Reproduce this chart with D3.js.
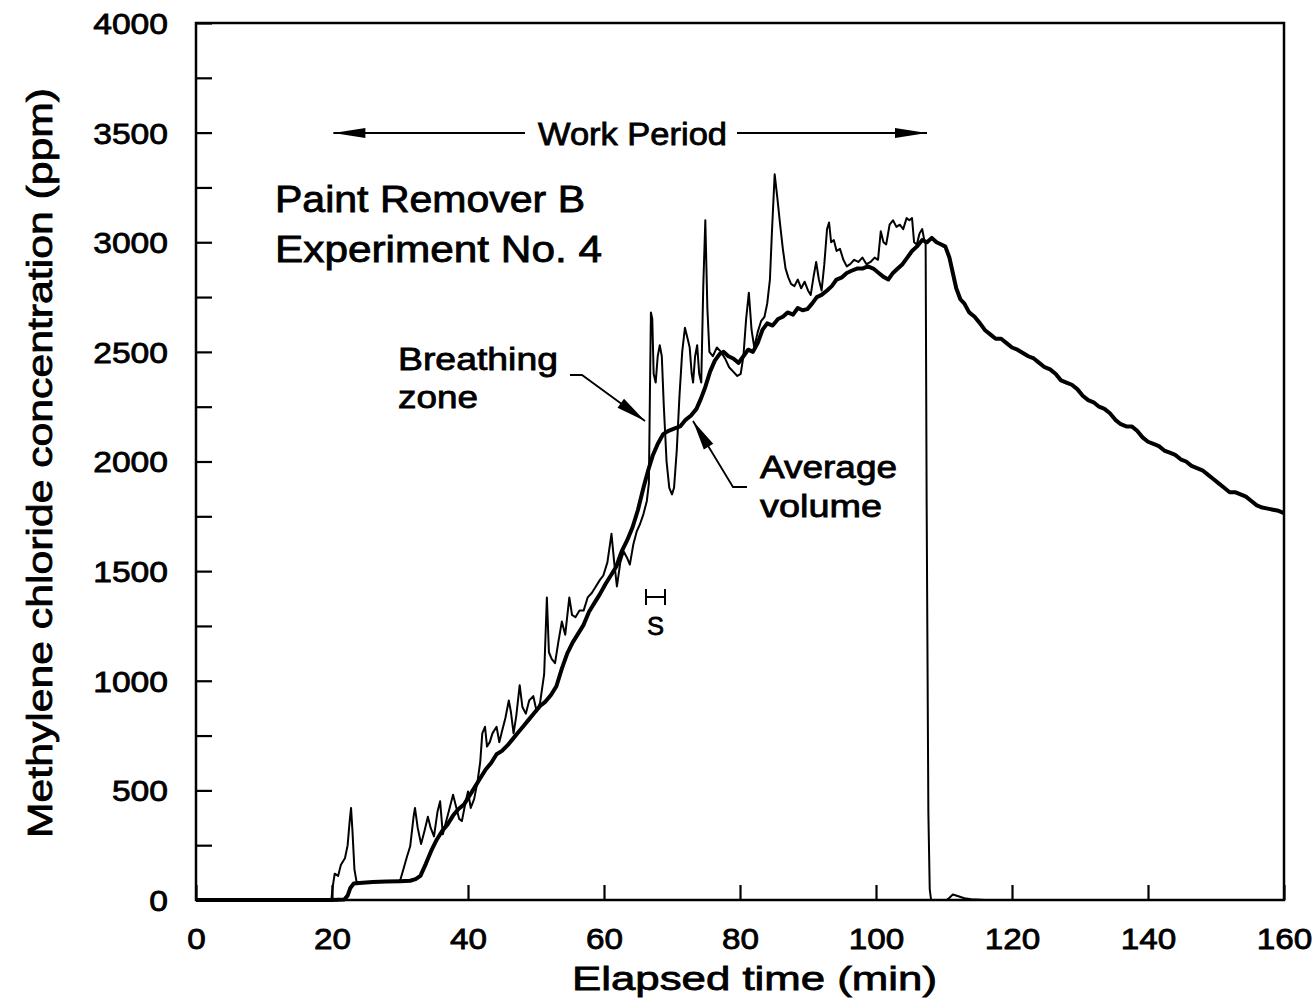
<!DOCTYPE html>
<html>
<head>
<meta charset="utf-8">
<script src="https://cdn.jsdelivr.net/npm/d3@7"></script>
<style>
  body { margin: 0; background: #fff; }
  svg text { font-family: "Liberation Sans", Arial, sans-serif; font-weight: normal; fill: #000; stroke: #000; stroke-width: 0.8px; }
</style>
</head>
<body>
<div id="chart"></div>
<script>
// Data (time in min, concentration in ppm)
const avgTime = [0, 20, 21.8, 22.3, 22.7, 23.2, 24, 26, 28, 30, 31.5, 32.3, 33, 33.8, 34.6, 35.4, 36.2, 37, 37.8, 38.6,
  39.4, 40.2, 41, 41.8, 42.6, 43.4, 44.2, 45, 45.8, 46.6, 47.4, 48.2, 49, 49.8, 50.6, 51.4, 52.2, 53, 53.8, 54.6,
  55.4, 56.2, 57, 57.8, 58.6, 59.4, 60.2, 61, 61.8, 62.6, 63.4, 64.2, 65, 65.8, 66.5, 67.2, 67.9, 68.7, 69.5, 70.3,
  71.2, 72, 72.8, 73.6, 74.3, 74.9, 75.6, 76.3, 77, 77.6, 78.3, 79, 79.8, 80.5, 81.2, 81.9, 82.6, 83.3, 84, 84.8,
  85.6, 86.3, 87, 87.8, 88.5, 89.2, 89.9, 90.6, 91.3, 92, 92.8, 93.5, 94.2, 95, 95.7, 96.4, 97.2, 98, 98.8, 99.6,
  100.4, 101.2, 101.8, 102.5, 103.2, 103.9, 104.6, 105.3, 106, 106.8, 107.5, 108.2, 108.9, 109.6, 110.2, 110.8, 111.3, 111.8, 112.4, 113,
  113.7, 114.5, 115.3, 116, 116.8, 117.6, 118.4, 119.2, 120, 120.8, 121.6, 122.4, 123.2, 124, 124.8, 125.6, 126.4, 127.2, 128, 128.8,
  129.6, 130.4, 131.2, 132, 132.8, 133.6, 134.4, 135.2, 136, 136.8, 137.6, 138.4, 139.2, 140, 140.8, 141.6, 142.4, 143.2, 144, 144.8,
  145.6, 146.4, 147.2, 148, 148.8, 149.6, 150.4, 151.2, 152, 152.8, 153.6, 154.4, 155.2, 156, 156.8, 157.6, 158.4, 159.2, 160];
const avgConc = [0, 0, 2, 20, 55, 75, 78, 82, 84, 86, 88, 95, 110, 165, 225, 275, 315, 345, 385, 415,
  435, 475, 515, 555, 595, 625, 665, 680, 705, 735, 765, 795, 825, 855, 885, 905, 935, 975, 1055, 1125,
  1175, 1215, 1255, 1315, 1355, 1395, 1440, 1480, 1520, 1590, 1640, 1700, 1780, 1880, 1960, 2030, 2080, 2125, 2140, 2150,
  2160, 2190, 2210, 2240, 2290, 2340, 2410, 2460, 2490, 2500, 2480, 2470, 2450, 2480, 2510, 2500, 2540, 2600, 2630, 2620,
  2650, 2660, 2680, 2670, 2700, 2690, 2695, 2720, 2750, 2760, 2780, 2800, 2830, 2840, 2860, 2870, 2880, 2880, 2890, 2880,
  2860, 2840, 2830, 2860, 2880, 2900, 2930, 2960, 2980, 3010, 3000, 3020, 3000, 2990, 2980, 2930, 2860, 2790, 2740, 2720,
  2680, 2660, 2630, 2600, 2580, 2560, 2560, 2540, 2520, 2510, 2495, 2480, 2470, 2450, 2430, 2420, 2400, 2370, 2360, 2350,
  2330, 2300, 2280, 2270, 2250, 2240, 2220, 2190, 2170, 2160, 2160, 2140, 2110, 2090, 2080, 2070, 2050, 2040, 2030, 2010,
  2000, 1980, 1970, 1960, 1940, 1920, 1900, 1880, 1860, 1860, 1850, 1840, 1820, 1800, 1790, 1785, 1780, 1775, 1765];

const bzTime = [0, 19.9, 20.1, 20.4, 20.9, 21.3, 21.9, 22.3, 22.6, 22.8, 23.0, 23.3, 23.6, 24, 26, 28, 30, 30.5, 31, 31.5,
  32, 32.2, 32.6, 33.1, 33.6, 34.1, 34.5, 35, 35.5, 35.9, 36.3, 36.8, 37.3, 37.8, 38.3, 38.7, 39.1, 39.6, 40, 40.4,
  40.9, 41.4, 41.8, 42.1, 42.5, 42.8, 43.2, 43.6, 44.2, 44.6, 45, 45.5, 46, 46.3, 46.7, 47.1, 47.6, 48, 48.5, 49,
  49.6, 50.1, 50.6, 51.2, 51.6, 51.9, 52.3, 52.8, 53.3, 53.8, 54.3, 54.9, 55.3, 55.8, 56.4, 57, 57.6, 58.2, 58.8, 59.4,
  59.9, 60.5, 61.1, 61.5, 61.9, 62.4, 62.9, 63.4, 63.8, 64.3, 64.8, 65.3, 65.8, 66.3, 66.6, 66.75, 66.9, 67.1, 67.3, 67.6,
  67.9, 68.2, 68.5, 68.8, 69.2, 69.6, 70, 70.3, 70.7, 71.1, 71.5, 71.9, 72.3, 72.6, 72.9, 73.1, 73.4, 73.7, 74, 74.3,
  74.6, 74.9, 75.2, 75.5, 76, 76.6, 77.2, 77.8, 78.4, 79, 79.6, 80.1, 80.5, 80.9, 81.3, 81.7, 82.1, 82.6, 83.1, 83.6,
  84, 84.4, 84.7, 85.1, 85.5, 85.9, 86.3, 86.7, 87.1, 87.5, 88, 88.5, 89, 89.5, 90, 90.4, 90.8, 91.2, 91.6, 92,
  92.4, 92.8, 93.1, 93.4, 93.8, 94.2, 94.7, 95.2, 95.7, 96.2, 96.8, 97.4, 98, 98.6, 99.2, 99.8, 100.3, 100.7, 101.1, 101.5,
  102, 102.5, 103, 103.5, 104, 104.5, 104.9, 105.3, 105.6, 106, 106.4, 106.8, 107.1, 107.3, 107.45, 107.7, 107.9, 108.1, 110.4, 110.8,
  111.3, 112, 113, 114, 116, 160];
const bzConc = [0, 0, 60, 120, 110, 160, 190, 250, 360, 420, 320, 140, 85, 78, 82, 84, 87, 140, 195, 245,
  380, 420, 330, 255, 315, 380, 330, 290, 400, 450, 300, 360, 420, 480, 420, 370, 360, 440, 495, 420,
  460, 540, 630, 760, 790, 700, 720, 760, 790, 720, 770, 830, 910, 860, 760, 840, 980, 880, 850, 910,
  930, 860, 900, 1030, 1380, 1130, 1100, 1080, 1180, 1270, 1210, 1380, 1300, 1290, 1320, 1320, 1380, 1400, 1430, 1460,
  1480, 1540, 1670, 1540, 1430, 1540, 1590, 1560, 1530, 1620, 1680, 1715, 1760, 1820, 1900, 2300, 2680, 2650, 2400, 2360,
  2480, 2530, 2480, 2250, 2000, 1880, 1850, 1880, 2050, 2300, 2500, 2610, 2560, 2520, 2400, 2360, 2480, 2530, 2400, 2360,
  2800, 3100, 2700, 2500, 2480, 2520, 2500, 2470, 2430, 2410, 2390, 2400, 2480, 2650, 2770, 2600, 2520, 2590, 2640, 2660,
  2720, 2830, 3050, 3310, 3200, 3080, 2970, 2880, 2840, 2810, 2800, 2830, 2790, 2820, 2780, 2760, 2840, 2910, 2830, 2780,
  2900, 3060, 3090, 3000, 3010, 2960, 2970, 2920, 2890, 2900, 2920, 2910, 2930, 2900, 2910, 2930, 2920, 3050, 3000, 2990,
  3080, 3100, 3070, 3080, 3060, 3110, 3100, 3110, 3000, 2990, 3040, 3060, 3010, 2990, 1800, 400, 50, 0, 0, 10,
  25, 18, 8, 3, 0, 0];

const xTicks = [0, 20, 40, 60, 80, 100, 120, 140, 160];
const yTicks = d3.range(0, 4001, 250);
const yLabelEvery = 500;

const width = 1313, height = 1007;
const margin = { top: 23, right: 29, bottom: 107, left: 196 };

const svg = d3.select("#chart").append("svg")
  .attr("width", width)
  .attr("height", height);

const x = d3.scaleLinear().domain([0, 160]).range([margin.left, width - margin.right]);
const y = d3.scaleLinear().domain([0, 4000]).range([height - margin.bottom, margin.top]);

// stretch a text to a given length (original lettering is wide)
function fit(sel, len) {
  sel.attr("textLength", len).attr("lengthAdjust", "spacingAndGlyphs");
}

// Axes, ticks point inward
const xAxis = svg.append("g")
  .attr("transform", `translate(0,${y(0)})`)
  .call(d3.axisBottom(x).tickValues(xTicks).tickSizeInner(-15).tickSizeOuter(0).tickPadding(0));
xAxis.select(".domain").remove();
xAxis.selectAll(".tick line").attr("stroke", "#000").attr("stroke-width", 2.2);
xAxis.selectAll(".tick text")
  .attr("y", 49).attr("dy", null)
  .style("font-size", "29px")
  .each(function (d) { fit(d3.select(this), String(d).length * 18.5); });

const yAxis = svg.append("g")
  .attr("transform", `translate(${x(0)},0)`)
  .call(d3.axisLeft(y).tickValues(yTicks).tickSizeInner(-16).tickSizeOuter(0).tickPadding(28)
    .tickFormat(d => d % yLabelEvery === 0 ? d : ""));
yAxis.select(".domain").remove();
yAxis.selectAll(".tick line").attr("stroke", "#000").attr("stroke-width", 2.2);
yAxis.selectAll(".tick text")
  .attr("dy", "0.36em")
  .style("font-size", "29px")
  .each(function (d) { if (d % yLabelEvery === 0) fit(d3.select(this), String(d).length * 18.7); });

// frame
svg.append("rect")
  .attr("x", x(0)).attr("y", y(4000))
  .attr("width", x(160) - x(0)).attr("height", y(0) - y(4000))
  .attr("fill", "none").attr("stroke", "#000").attr("stroke-width", 2.5);

// lines
const line = d3.line().x(d => x(d[0])).y(d => y(d[1]));
const bz = d3.zip(bzTime, bzConc);
const avg = d3.zip(avgTime, avgConc);

svg.append("path")
  .datum(bz)
  .attr("d", line)
  .attr("fill", "none").attr("stroke", "#000")
  .attr("stroke-width", 2).attr("stroke-linejoin", "round");

svg.append("path")
  .datum(avg)
  .attr("d", line)
  .attr("fill", "none").attr("stroke", "#000")
  .attr("stroke-width", 4).attr("stroke-linejoin", "round");

// arrow helpers
function arrowHead(tip, from, len, half) {
  const dx = tip[0] - from[0], dy = tip[1] - from[1];
  const d = Math.hypot(dx, dy), ux = dx / d, uy = dy / d;
  const bx = tip[0] - ux * len, by = tip[1] - uy * len;
  svg.append("path")
    .attr("d", `M${tip[0]},${tip[1]}L${bx - uy * half},${by + ux * half}L${bx + uy * half},${by - ux * half}Z`)
    .attr("fill", "#000");
}
function leader(pts, len, half) {
  svg.append("path")
    .attr("d", d3.line()(pts))
    .attr("fill", "none").attr("stroke", "#000").attr("stroke-width", 1.8);
  arrowHead(pts[pts.length - 1], pts[pts.length - 2], len, half);
}

function label(txt, xp, yp, size, len) {
  const t = svg.append("text").attr("x", xp).attr("y", yp).style("font-size", size + "px").text(txt);
  fit(t, len);
  return t;
}

// Work period
const wy = 133;
leader([[525, wy], [x(20.2), wy]], 32, 5);
leader([[737, wy], [x(107.5), wy]], 32, 5);
label("Work Period", 538, 145, 31, 189);

label("Paint Remover B", 275, 212, 36, 310);
label("Experiment No. 4", 275, 262, 36, 327);

label("Breathing", 398, 370, 31, 160);
label("zone", 398, 408, 31, 80);
leader([[570, 375], [582, 375], [645, 421]], 30, 5.5);

label("Average", 760, 478, 31, 137);
label("volume", 760, 517, 31, 122);
leader([[747, 487], [733, 487], [693, 421]], 30, 5.5);

// S bracket
svg.append("path")
  .attr("d", "M646,589V605M646,597H665M665,589V605")
  .attr("fill", "none").attr("stroke", "#000").attr("stroke-width", 2);
label("S", 647, 635, 26, 17);

// axis titles
label("Elapsed time (min)", 572, 990, 34, 365);
svg.append("text")
  .attr("transform", "translate(52,463) rotate(-90)")
  .attr("text-anchor", "middle")
  .style("font-size", "35px")
  .attr("textLength", 750).attr("lengthAdjust", "spacingAndGlyphs")
  .text("Methylene chloride concentration (ppm)");
</script>
</body>
</html>
